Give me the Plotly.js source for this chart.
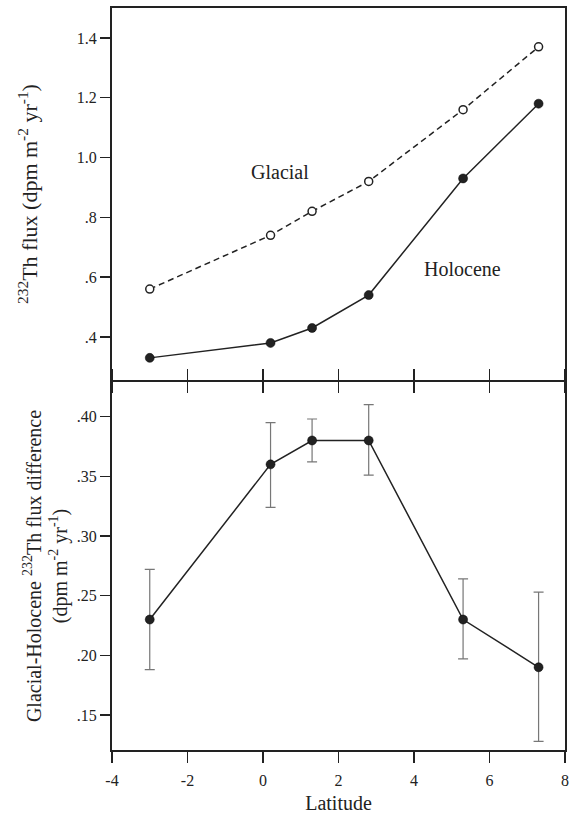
<!DOCTYPE html>
<html>
<head>
<meta charset="utf-8">
<script src="https://cdn.plot.ly/plotly-3.0.1.min.js"></script>
<style>
  html, body { margin: 0; padding: 0; background: #fff; }
  #chart { width: 574px; height: 815px; }
</style>
</head>
<body>
<div id="chart"></div>
<script>
// Latitude of each core site
const latitude = [-3.0, 0.2, 1.3, 2.8, 5.3, 7.3];
// 232Th flux (dpm m-2 yr-1)
const glacialFlux = [0.56, 0.74, 0.82, 0.92, 1.16, 1.37];
const holoceneFlux = [0.33, 0.38, 0.43, 0.54, 0.93, 1.18];
// Glacial-Holocene difference with asymmetric error bars
const fluxDiff = [0.23, 0.36, 0.38, 0.38, 0.23, 0.19];
const diffErrPlus = [0.042, 0.035, 0.018, 0.030, 0.034, 0.063];
const diffErrMinus = [0.042, 0.036, 0.018, 0.029, 0.033, 0.062];

// Tick labels
const xTickVals = [-4, -2, 0, 2, 4, 6, 8];
const xTickText = ['-4', '-2', '0', '2', '4', '6', '8'];
const topTickVals = [0.4, 0.6, 0.8, 1.0, 1.2, 1.4];
const topTickText = ['.4', '.6', '.8', '1.0', '1.2', '1.4'];
const botTickVals = [0.15, 0.20, 0.25, 0.30, 0.35, 0.40];
const botTickText = ['.15', '.20', '.25', '.30', '.35', '.40'];

const serif = 'Liberation Serif, Times New Roman, serif';
const ink = '#222';

const traces = [
  {
    x: latitude, y: glacialFlux, xaxis: 'x2', yaxis: 'y2',
    type: 'scatter', mode: 'lines+markers', name: 'Glacial',
    line: { color: ink, width: 1.5, dash: '6px,4px' },
    marker: { symbol: 'circle', size: 8, color: '#fff', line: { color: ink, width: 1.5 } }
  },
  {
    x: latitude, y: holoceneFlux, xaxis: 'x2', yaxis: 'y2',
    type: 'scatter', mode: 'lines+markers', name: 'Holocene',
    line: { color: ink, width: 1.5 },
    marker: { symbol: 'circle', size: 9, color: ink, line: { color: '#000', width: 0.5 } }
  },
  {
    x: latitude, y: fluxDiff, xaxis: 'x', yaxis: 'y',
    type: 'scatter', mode: 'lines+markers', name: 'Difference',
    line: { color: ink, width: 1.5 },
    marker: { symbol: 'circle', size: 9, color: ink, line: { color: '#000', width: 0.5 } },
    error_y: { type: 'data', symmetric: false, array: diffErrPlus, arrayminus: diffErrMinus,
               color: '#777', thickness: 1.2, width: 5 }
  }
];

const plotH = 742;
const botTop = 368 / plotH;   // bottom panel: 382..750 px
const topBot = 370 / plotH;   // top panel: 8..380 px

const axisCommon = {
  showgrid: false, zeroline: false, showline: true,
  linecolor: ink, linewidth: 2, tickcolor: ink, tickwidth: 1.5,
  tickfont: { family: serif, size: 16, color: ink }
};

const layout = {
  width: 574, height: 815,
  margin: { l: 112, r: 9, t: 8, b: 65 },
  paper_bgcolor: '#fff', plot_bgcolor: '#fff',
  showlegend: false,
  font: { family: serif, color: ink },
  xaxis: Object.assign({}, axisCommon, {
    domain: [0, 1], anchor: 'y', range: [-4, 8],
    tickmode: 'array', tickvals: xTickVals, ticktext: xTickText,
    ticks: 'outside', ticklen: 11, mirror: 'ticks', ticklabelstandoff: 4,
    title: { text: 'Latitude', font: { family: serif, size: 20, color: ink }, standoff: 8 }
  }),
  xaxis2: Object.assign({}, axisCommon, {
    domain: [0, 1], anchor: 'y2', range: [-4, 8], matches: 'x',
    tickmode: 'linear', tick0: -4, dtick: 2,
    ticks: 'outside', ticklen: 11, showticklabels: false, mirror: true
  }),
  yaxis: Object.assign({}, axisCommon, {
    domain: [0, botTop], anchor: 'x', range: [0.1207, 0.429],
    tickmode: 'array', tickvals: botTickVals, ticktext: botTickText,
    ticks: 'outside', ticklen: 10, mirror: true,
    title: { text: 'Glacial-Holocene <sup>232</sup>Th flux difference<br>(dpm m<sup>-2</sup> yr<sup>-1</sup>)',
             font: { family: serif, size: 20, color: ink }, standoff: 4 }
  }),
  yaxis2: Object.assign({}, axisCommon, {
    domain: [topBot, 1], anchor: 'x2', range: [0.256, 1.5],
    tickmode: 'array', tickvals: topTickVals, ticktext: topTickText,
    ticks: 'outside', ticklen: 10, mirror: true,
    title: { text: '<sup>232</sup>Th flux (dpm m<sup>-2</sup> yr<sup>-1</sup>)',
             font: { family: serif, size: 22, color: ink }, standoff: 33 }
  }),
  annotations: [
    { x: 0.46, y: 0.953, xref: 'x2', yref: 'y2', text: 'Glacial', showarrow: false,
      font: { family: serif, size: 20, color: ink } },
    { x: 5.29, y: 0.627, xref: 'x2', yref: 'y2', text: 'Holocene', showarrow: false,
      font: { family: serif, size: 20, color: ink } }
  ]
};

Plotly.newPlot('chart', traces, layout, { displayModeBar: false, staticPlot: true });
</script>
</body>
</html>
